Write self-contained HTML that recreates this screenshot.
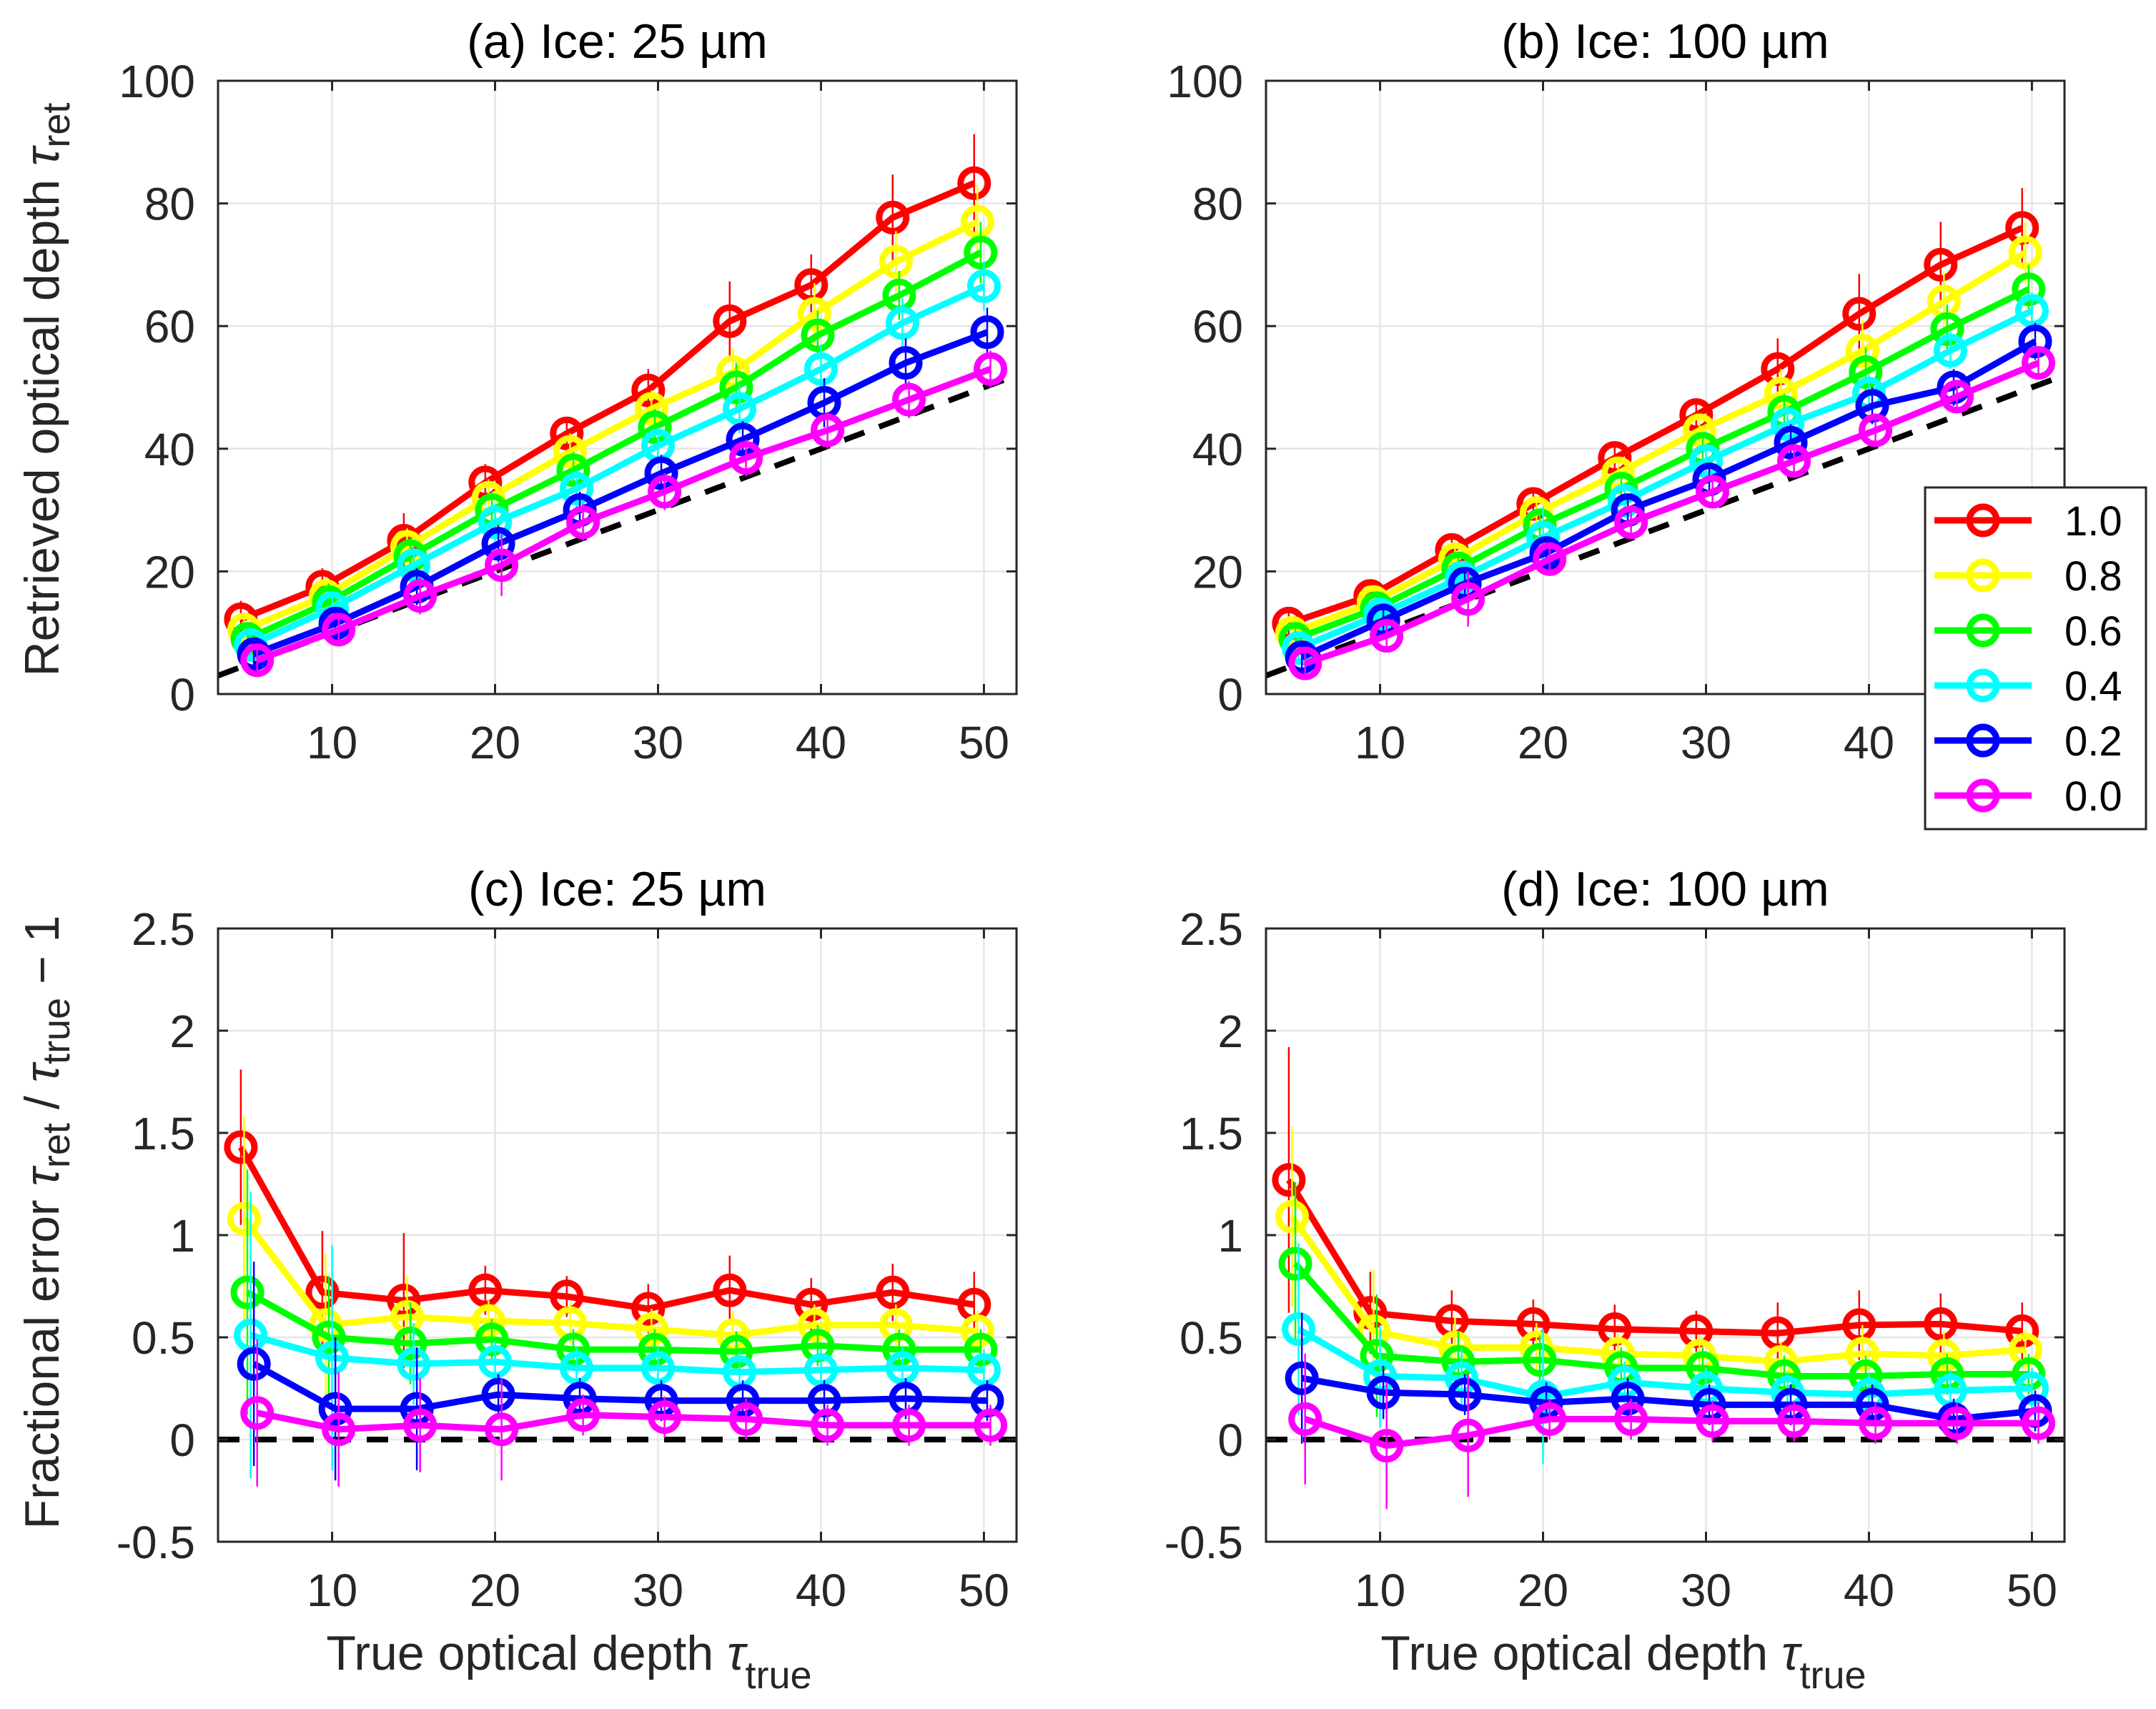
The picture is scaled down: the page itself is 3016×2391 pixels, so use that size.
<!DOCTYPE html>
<html><head><meta charset="utf-8">
<style>
html,body{margin:0;padding:0;background:#fff;}
svg{display:block;font-family:"Liberation Sans",Arial,sans-serif;}
</style></head>
<body>
<svg id="fig" width="3016" height="2391" viewBox="0 0 3016 2391" xmlns="http://www.w3.org/2000/svg">
<text transform="translate(82,545) rotate(-90)" text-anchor="middle" font-size="68" fill="#262626">Retrieved optical depth <tspan font-style="italic">τ</tspan><tspan font-size="54" dy="15">ret</tspan></text>
<text transform="translate(82,1710) rotate(-90)" text-anchor="middle" font-size="68" fill="#262626">Fractional error <tspan font-style="italic">τ</tspan><tspan font-size="54" dy="15">ret</tspan><tspan dy="-15"> / </tspan><tspan font-style="italic">τ</tspan><tspan font-size="54" dy="15">true</tspan><tspan dy="-15"> − 1</tspan></text>
<text x="796" y="2336" text-anchor="middle" font-size="68" fill="#262626">True optical depth <tspan font-style="italic">τ</tspan><tspan font-size="54" dy="26">true</tspan></text>
<text x="2271" y="2336" text-anchor="middle" font-size="68" fill="#262626">True optical depth <tspan font-style="italic">τ</tspan><tspan font-size="54" dy="26">true</tspan></text>
</svg>
<script>
// ---- data ----
const tauTrue = [5,10,15,20,25,30,35,40,45,50];
const seriesLabels = ["1.0","0.8","0.6","0.4","0.2","0.0"];
const xTickLabels = [10,20,30,40,50];
const yTicksTop = [0,20,40,60,80,100];
const yTicksBottom = [-0.5,0,0.5,1,1.5,2,2.5];

const aRed = [12.2,17.5,25,34.5,42.5,49.5,60.8,66.7,77.7,83.3];
const aYellow = [10.5,16,24,32,39.5,46.5,52.5,62,70.5,77];
const aGreen = [9,15,22.5,30,36.5,43.5,50,58.5,65,72];
const aCyan = [8,14,21,28,33.5,40.5,46.5,53,60.5,66.5];
const aBlue = [6.5,11.5,17.5,24.5,30,36,41.5,47.5,54,59];
const aMagenta = [5.5,10.5,16,21,28,33,38.5,43,48,53];

const bRed = [11.5,16,23.5,31,38.5,45.5,53,62,70,76];
const bYellow = [10,15,22,29.5,36,43,49,56,64,72];
const bGreen = [9,14,20.5,27.5,33.5,40,46,52.5,59.5,66];
const bCyan = [7.5,13,19,25.5,31.5,38,44,49,56,62.5];
const bBlue = [6,12,18,23,30,35,41,47,50,57.5];
const bMagenta = [5,9.5,15.5,22,28,33,38,43,48.5,54];

const cRed = [1.43,0.72,0.68,0.73,0.70,0.64,0.73,0.66,0.72,0.66];
const cYellow = [1.08,0.56,0.60,0.58,0.57,0.54,0.51,0.56,0.56,0.53];
const cGreen = [0.72,0.50,0.47,0.49,0.44,0.44,0.43,0.46,0.44,0.44];
const cCyan = [0.51,0.40,0.37,0.38,0.35,0.35,0.33,0.34,0.35,0.34];
const cBlue = [0.37,0.15,0.15,0.22,0.20,0.19,0.19,0.19,0.20,0.19];
const cMagenta = [0.13,0.05,0.07,0.05,0.12,0.11,0.10,0.07,0.07,0.07];

const dRed = [1.27,0.62,0.58,0.565,0.54,0.53,0.52,0.56,0.565,0.53];
const dYellow = [1.09,0.53,0.45,0.45,0.42,0.41,0.38,0.42,0.41,0.44];
const dGreen = [0.86,0.41,0.38,0.39,0.35,0.35,0.31,0.31,0.32,0.32];
const dCyan = [0.54,0.31,0.30,0.21,0.28,0.25,0.23,0.22,0.24,0.25];
const dBlue = [0.30,0.23,0.22,0.18,0.20,0.17,0.17,0.17,0.10,0.14];
const dMagenta = [0.10,-0.03,0.02,0.10,0.10,0.09,0.09,0.08,0.08,0.08];

// error half-widths
const aErr = [[3,3,4.5,3,2,3.5,6.5,5,7,8],[2,3,3,3,3,3,4,5,5,6],[2,3,3,3,3,3,4,4,4,5],[2,2,3,3,3,3,4,4,4,4],[2,2,3,3,3,3,3,4,4,4],[2,2,3,5,3,3,3,3,3,3]];
const bErr = [[2,2,2,2,2,2,5,6.5,7,6.5],[2,2,2,2,2,2,4,5,5,5],[2,2,2,2,2,2,3,4,4,4],[2,2,2,5,2,2,3,3,3,3],[2,2,2,2,2,2,3,3,3,3],[2,2,4.5,2,2,2,2,2,2,2]];
const cErr = [[0.38,0.3,0.33,0.12,0.1,0.12,0.17,0.13,0.14,0.16],[0.5,0.35,0.2,0.1,0.1,0.1,0.12,0.1,0.1,0.1],[0.6,0.3,0.2,0.1,0.1,0.1,0.1,0.1,0.1,0.1],[0.7,0.55,0.2,0.1,0.1,0.1,0.1,0.1,0.1,0.1],[0.5,0.35,0.3,0.1,0.1,0.1,0.1,0.1,0.1,0.1],[0.36,0.28,0.23,0.25,0.1,0.1,0.1,0.1,0.1,0.1]];
const dErr = [[0.65,0.2,0.15,0.12,0.12,0.1,0.15,0.17,0.15,0.14],[0.44,0.3,0.15,0.12,0.1,0.1,0.1,0.14,0.12,0.1],[0.4,0.3,0.15,0.12,0.1,0.1,0.1,0.1,0.1,0.1],[0.42,0.25,0.15,0.33,0.1,0.1,0.1,0.1,0.1,0.1],[0.32,0.13,0.1,0.1,0.1,0.1,0.1,0.1,0.1,0.1],[0.32,0.31,0.3,0.1,0.1,0.1,0.1,0.1,0.1,0.1]];

const colors = ["#ff0000","#ffff00","#00ff00","#00ffff","#0000ff","#ff00ff"];
const xOffsets = [-0.6,-0.4,-0.2,0,0.2,0.4];

const panels = [
  {id:"a", title:"(a) Ice: 25 \u00b5m", L:305,R:1422,T:113,B:971, ymin:0,ymax:100, yt:yTicksTop, series:[aRed,aYellow,aGreen,aCyan,aBlue,aMagenta], err:aErr, diag:true},
  {id:"b", title:"(b) Ice: 100 \u00b5m", L:1771,R:2888,T:113,B:971, ymin:0,ymax:100, yt:yTicksTop, series:[bRed,bYellow,bGreen,bCyan,bBlue,bMagenta], err:bErr, diag:true},
  {id:"c", title:"(c) Ice: 25 \u00b5m", L:305,R:1422,T:1299,B:2157, ymin:-0.5,ymax:2.5, yt:yTicksBottom, series:[cRed,cYellow,cGreen,cCyan,cBlue,cMagenta], err:cErr, diag:false},
  {id:"d", title:"(d) Ice: 100 \u00b5m", L:1771,R:2888,T:1299,B:2157, ymin:-0.5,ymax:2.5, yt:yTicksBottom, series:[dRed,dYellow,dGreen,dCyan,dBlue,dMagenta], err:dErr, diag:false}
];
const XMIN=3, XMAX=52;
const NS="http://www.w3.org/2000/svg";
const svg=document.getElementById("fig");
function mk(tag,attrs,parent){const e=document.createElementNS(NS,tag);for(const k in attrs)e.setAttribute(k,attrs[k]);(parent||svg).appendChild(e);return e;}

panels.forEach(p=>{
  const g=mk("g",{});
  
  
  const sx=v=>p.L+(v-XMIN)/(XMAX-XMIN)*(p.R-p.L);
  const sy=v=>p.B-(v-p.ymin)/(p.ymax-p.ymin)*(p.B-p.T);
  const clip=mk("clipPath",{id:"clip"+p.id},g);
  mk("rect",{x:p.L,y:p.T,width:p.R-p.L,height:p.B-p.T},clip);
  xTickLabels.forEach(t=>{mk("line",{x1:sx(t),x2:sx(t),y1:p.T,y2:p.B,stroke:"#e6e6e6","stroke-width":2.5},g);});
  p.yt.forEach(t=>{mk("line",{x1:p.L,x2:p.R,y1:sy(t),y2:sy(t),stroke:"#e6e6e6","stroke-width":2.5},g);});
  const dv=p.diag?[XMIN,XMAX]:[0,0];
  const ref=mk("line",{x1:sx(XMIN),x2:sx(XMAX),y1:sy(dv[0]),y2:sy(dv[1]),stroke:"#000","stroke-width":8,"stroke-dasharray":"30 22","clip-path":"url(#clip"+p.id+")"},g);
  
  
  p.series.forEach((vals,si)=>{
    const sg=mk("g",{"clip-path":"url(#clip"+p.id+")"},g);
    
    
    const pts=vals.map((v,i)=>sx(tauTrue[i]+xOffsets[si])+","+sy(v)).join(" ");
    mk("polyline",{points:pts,fill:"none",stroke:colors[si],"stroke-width":9,"stroke-linejoin":"round"},sg);
    vals.forEach((v,i)=>{
      const x=sx(tauTrue[i]+xOffsets[si]);
      const e=p.err[si][i];
      const eb=mk("line",{x1:x,x2:x,y1:sy(v-e),y2:sy(v+e),stroke:colors[si],"stroke-width":2.5},sg);
      
      
    });
    vals.forEach((v,i)=>{
      const c=mk("circle",{cx:sx(tauTrue[i]+xOffsets[si]),cy:sy(v),r:19,fill:"none",stroke:colors[si],"stroke-width":9},sg);
      
      
    });
  });
  const box=mk("rect",{x:p.L,y:p.T,width:p.R-p.L,height:p.B-p.T,fill:"none",stroke:"#262626","stroke-width":3},g);
  
  
  xTickLabels.forEach(t=>{
    mk("line",{x1:sx(t),x2:sx(t),y1:p.B,y2:p.B-14,stroke:"#262626","stroke-width":3},g);
    mk("line",{x1:sx(t),x2:sx(t),y1:p.T,y2:p.T+14,stroke:"#262626","stroke-width":3},g);
    const tx=mk("text",{x:sx(t),y:p.B+90,"text-anchor":"middle","font-size":64,fill:"#262626"},g);
    tx.textContent=t;
    
    
  });
  p.yt.forEach(t=>{
    mk("line",{x1:p.L,x2:p.L+14,y1:sy(t),y2:sy(t),stroke:"#262626","stroke-width":3},g);
    mk("line",{x1:p.R,x2:p.R-14,y1:sy(t),y2:sy(t),stroke:"#262626","stroke-width":3},g);
    const ty=mk("text",{x:p.L-32,y:sy(t)+23,"text-anchor":"end","font-size":64,fill:"#262626"},g);
    ty.textContent=String(t);
    
    
  });
  const tt=mk("text",{x:(p.L+p.R)/2,y:p.T-32,"text-anchor":"middle","font-size":68,fill:"#000"},g);
  tt.textContent=p.title;
  
  
});

(function(){
  const lg=mk("g",{});
  
  
  mk("rect",{x:2693,y:682,width:309,height:478,fill:"#fff",stroke:"#262626","stroke-width":3},lg);
  seriesLabels.forEach((lab,i)=>{
    const y=728+i*77;
    const eg=mk("g",{},lg);
    
    
    mk("line",{x1:2706,x2:2842,y1:y,y2:y,stroke:colors[i],"stroke-width":9},eg);
    mk("circle",{cx:2774,cy:y,r:19,fill:"none",stroke:colors[i],"stroke-width":9},eg);
    const t=mk("text",{x:2888,y:y+21,"font-size":58,fill:"#000"},eg);
    t.textContent=lab;
  });
})();
</script>
</body></html>
